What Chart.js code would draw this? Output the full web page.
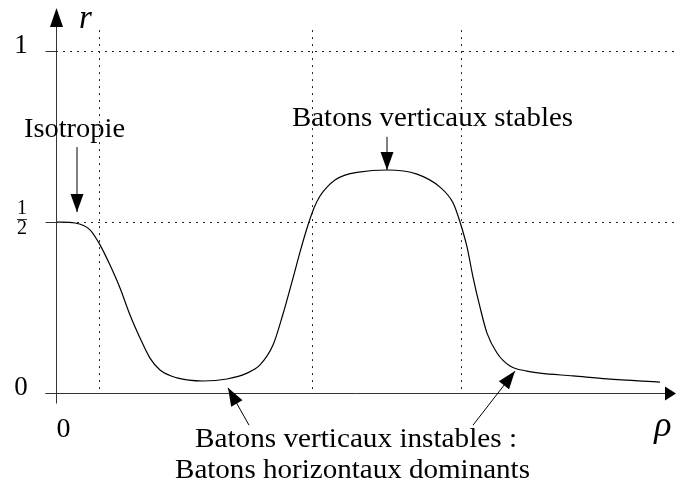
<!DOCTYPE html>
<html lang="fr">
<head>
  <meta charset="UTF-8">
  <title>Parametre d'ordre r en fonction de la densite</title>
  <script src="https://cdn.jsdelivr.net/npm/chart.js"></script>
  <style>
    body {
      margin: 0;
      background: #fff;
    }
    #chart-container {
      width: 676px;
      height: 485px;
    }
  </style>
</head>
<body>
  <div id="chart-container">
    <canvas id="orderChart" width="676" height="485"></canvas>
  </div>

  <script>
    // Courbe r(rho)
    const rho = [0, 0.19, 0.34, 0.44, 0.54, 0.64, 0.74, 0.84, 0.94, 1.04, 1.21, 1.47, 1.71, 1.91, 2.04, 2.17,
                 2.27, 2.37, 2.44, 2.52, 2.58, 2.64, 2.71, 2.79, 2.89, 3.01, 3.31, 3.61, 3.84, 3.97, 4.04, 4.11, 4.17, 4.24,
                 4.31, 4.41, 4.54, 4.71, 4.84, 5.17, 5.51, 6.04];
    const r = [0.5, 0.497, 0.477, 0.433, 0.374, 0.307, 0.228, 0.161, 0.102, 0.067, 0.044, 0.035, 0.041, 0.058, 0.082, 0.140,
               0.231, 0.336, 0.412, 0.491, 0.541, 0.576, 0.602, 0.623, 0.637, 0.645, 0.652, 0.640, 0.602, 0.556, 0.500, 0.427, 0.339, 0.251,
               0.175, 0.117, 0.079, 0.064, 0.058, 0.050, 0.041, 0.032];

    // Reperes en pointilles
    const gridRho = [0.43, 2.56, 4.05];
    const yTicks = [0, 0.5, 1];
    const yTickLabels = ['0', '1/2', '1'];
    const xTickLabels = ['0'];

    // Annotations : [texte, rho, r (ligne de base), largeur]
    const notes = [
      ['Isotropie', 0.185, 0.749, 101],
      ['Batons verticaux stables', 3.765, 0.781, 281],
      ['Batons verticaux instables :', 3.0, -0.158, 322],
      ['Batons horizontaux dominants', 2.965, -0.249, 355]
    ];
    // Fleches : [rho depart, r depart, rho pointe, r pointe]
    const arrows = [
      [0.21, 0.719, 0.21, 0.529],
      [3.31, 0.749, 3.31, 0.652],
      [1.93, -0.094, 1.72, 0.015],
      [4.17, -0.094, 4.59, 0.064]
    ];

    const FONT = '"Liberation Serif", "Times New Roman", serif';

    function drawText(ctx, text, x, y, size, width, italic) {
      ctx.font = (italic ? 'italic ' : '') + size + 'px ' + FONT;
      const w = ctx.measureText(text).width;
      const sx = width ? width / w : 1;
      ctx.save();
      ctx.translate(x, y);
      ctx.scale(sx, 1);
      ctx.textAlign = 'center';
      ctx.textBaseline = 'alphabetic';
      ctx.fillText(text, 0, 0);
      ctx.restore();
    }

    function arrowHead(ctx, x0, y0, x1, y1, len, half) {
      const a = Math.atan2(y1 - y0, x1 - x0);
      const bx = x1 - len * Math.cos(a), by = y1 - len * Math.sin(a);
      ctx.beginPath();
      ctx.moveTo(x1, y1);
      ctx.lineTo(bx + half * Math.sin(a), by - half * Math.cos(a));
      ctx.lineTo(bx - half * Math.sin(a), by + half * Math.cos(a));
      ctx.closePath();
      ctx.fill();
    }

    const figurePlugin = {
      id: 'figure',
      beforeDatasetsDraw(chart) {
        const ctx = chart.ctx;
        const xs = chart.scales.x, ys = chart.scales.y;
        ctx.save();
        ctx.strokeStyle = '#222';
        ctx.lineWidth = 1;
        ctx.setLineDash([2, 5]);
        gridRho.forEach(v => {
          const px = Math.round(xs.getPixelForValue(v)) + 0.5;
          ctx.beginPath();
          ctx.moveTo(px, ys.getPixelForValue(1.061));
          ctx.lineTo(px, ys.getPixelForValue(0));
          ctx.stroke();
        });
        yTicks.filter(v => v > 0).forEach(v => {
          const py = Math.round(ys.getPixelForValue(v)) + 0.5;
          ctx.beginPath();
          ctx.moveTo(xs.getPixelForValue(0), py);
          ctx.lineTo(chart.width, py);
          ctx.stroke();
        });
        ctx.restore();
      },
      afterDraw(chart) {
        const ctx = chart.ctx;
        const xs = chart.scales.x, ys = chart.scales.y;
        const x0 = Math.round(xs.getPixelForValue(0)) + 0.5;
        const y0 = Math.round(ys.getPixelForValue(0)) + 0.5;
        ctx.save();
        ctx.strokeStyle = '#333';
        ctx.fillStyle = '#000';
        ctx.lineWidth = 1;

        // axes
        ctx.beginPath();
        ctx.moveTo(x0 - 11, y0);
        ctx.lineTo(chart.width - 8, y0);
        ctx.moveTo(x0, y0 + 10);
        ctx.lineTo(x0, 20);
        ctx.stroke();
        arrowHead(ctx, x0 - 100, y0, chart.width, y0, 11, 7);
        arrowHead(ctx, x0, 100, x0, 8, 19, 6.5);

        // graduations de l'axe r
        yTicks.forEach((v, i) => {
          const py = Math.round(ys.getPixelForValue(v)) + 0.5;
          ctx.beginPath();
          ctx.moveTo(x0 - 11, py);
          ctx.lineTo(x0, py);
          ctx.stroke();
          const lab = yTickLabels[i];
          if (lab.indexOf('/') > 0) {
            const parts = lab.split('/');
            drawText(ctx, parts[0], 22, py - 9, 20);
            drawText(ctx, parts[1], 22, py + 11, 20);
            ctx.beginPath();
            ctx.moveTo(17, py - 3);
            ctx.lineTo(27, py - 3);
            ctx.stroke();
          } else {
            drawText(ctx, lab, 21, py + 1, 27);
          }
        });
        xTickLabels.forEach(lab => drawText(ctx, lab, x0 + 7, y0 + 43, 28));

        // noms des axes
        drawText(ctx, 'r', xs.getPixelForValue(0.295), ys.getPixelForValue(1.067), 33, 0, true);
        drawText(ctx, 'ρ', xs.getPixelForValue(6.07), ys.getPixelForValue(-0.126), 36, 0, true);

        // annotations
        notes.forEach(n => drawText(ctx, n[0], xs.getPixelForValue(n[1]), ys.getPixelForValue(n[2]), 27, n[3]));
        ctx.strokeStyle = '#000';
        arrows.forEach(a => {
          const ax = xs.getPixelForValue(a[0]), ay = ys.getPixelForValue(a[1]);
          const bx = xs.getPixelForValue(a[2]), by = ys.getPixelForValue(a[3]);
          ctx.beginPath();
          ctx.moveTo(ax, ay);
          ctx.lineTo(bx, by);
          ctx.stroke();
          arrowHead(ctx, ax, ay, bx, by, 18, 6.5);
        });
        ctx.restore();
      }
    };

    const ctx = document.getElementById('orderChart').getContext('2d');
    const orderChart = new Chart(ctx, {
      type: 'line',
      data: {
        datasets: [{
          data: rho.map((v, i) => ({ x: v, y: r[i] })),
          borderColor: '#000',
          borderWidth: 1.2,
          pointRadius: 0,
          fill: false,
          cubicInterpolationMode: 'monotone'
        }]
      },
      options: {
        responsive: false,
        animation: false,
        layout: { padding: 0 },
        plugins: {
          legend: { display: false },
          tooltip: { enabled: false }
        },
        scales: {
          x: { type: 'linear', display: false, min: -0.56, max: 6.2 },
          y: { type: 'linear', display: false, min: -0.269, max: 1.149 }
        }
      },
      plugins: [figurePlugin]
    });
  </script>
</body>
</html>
